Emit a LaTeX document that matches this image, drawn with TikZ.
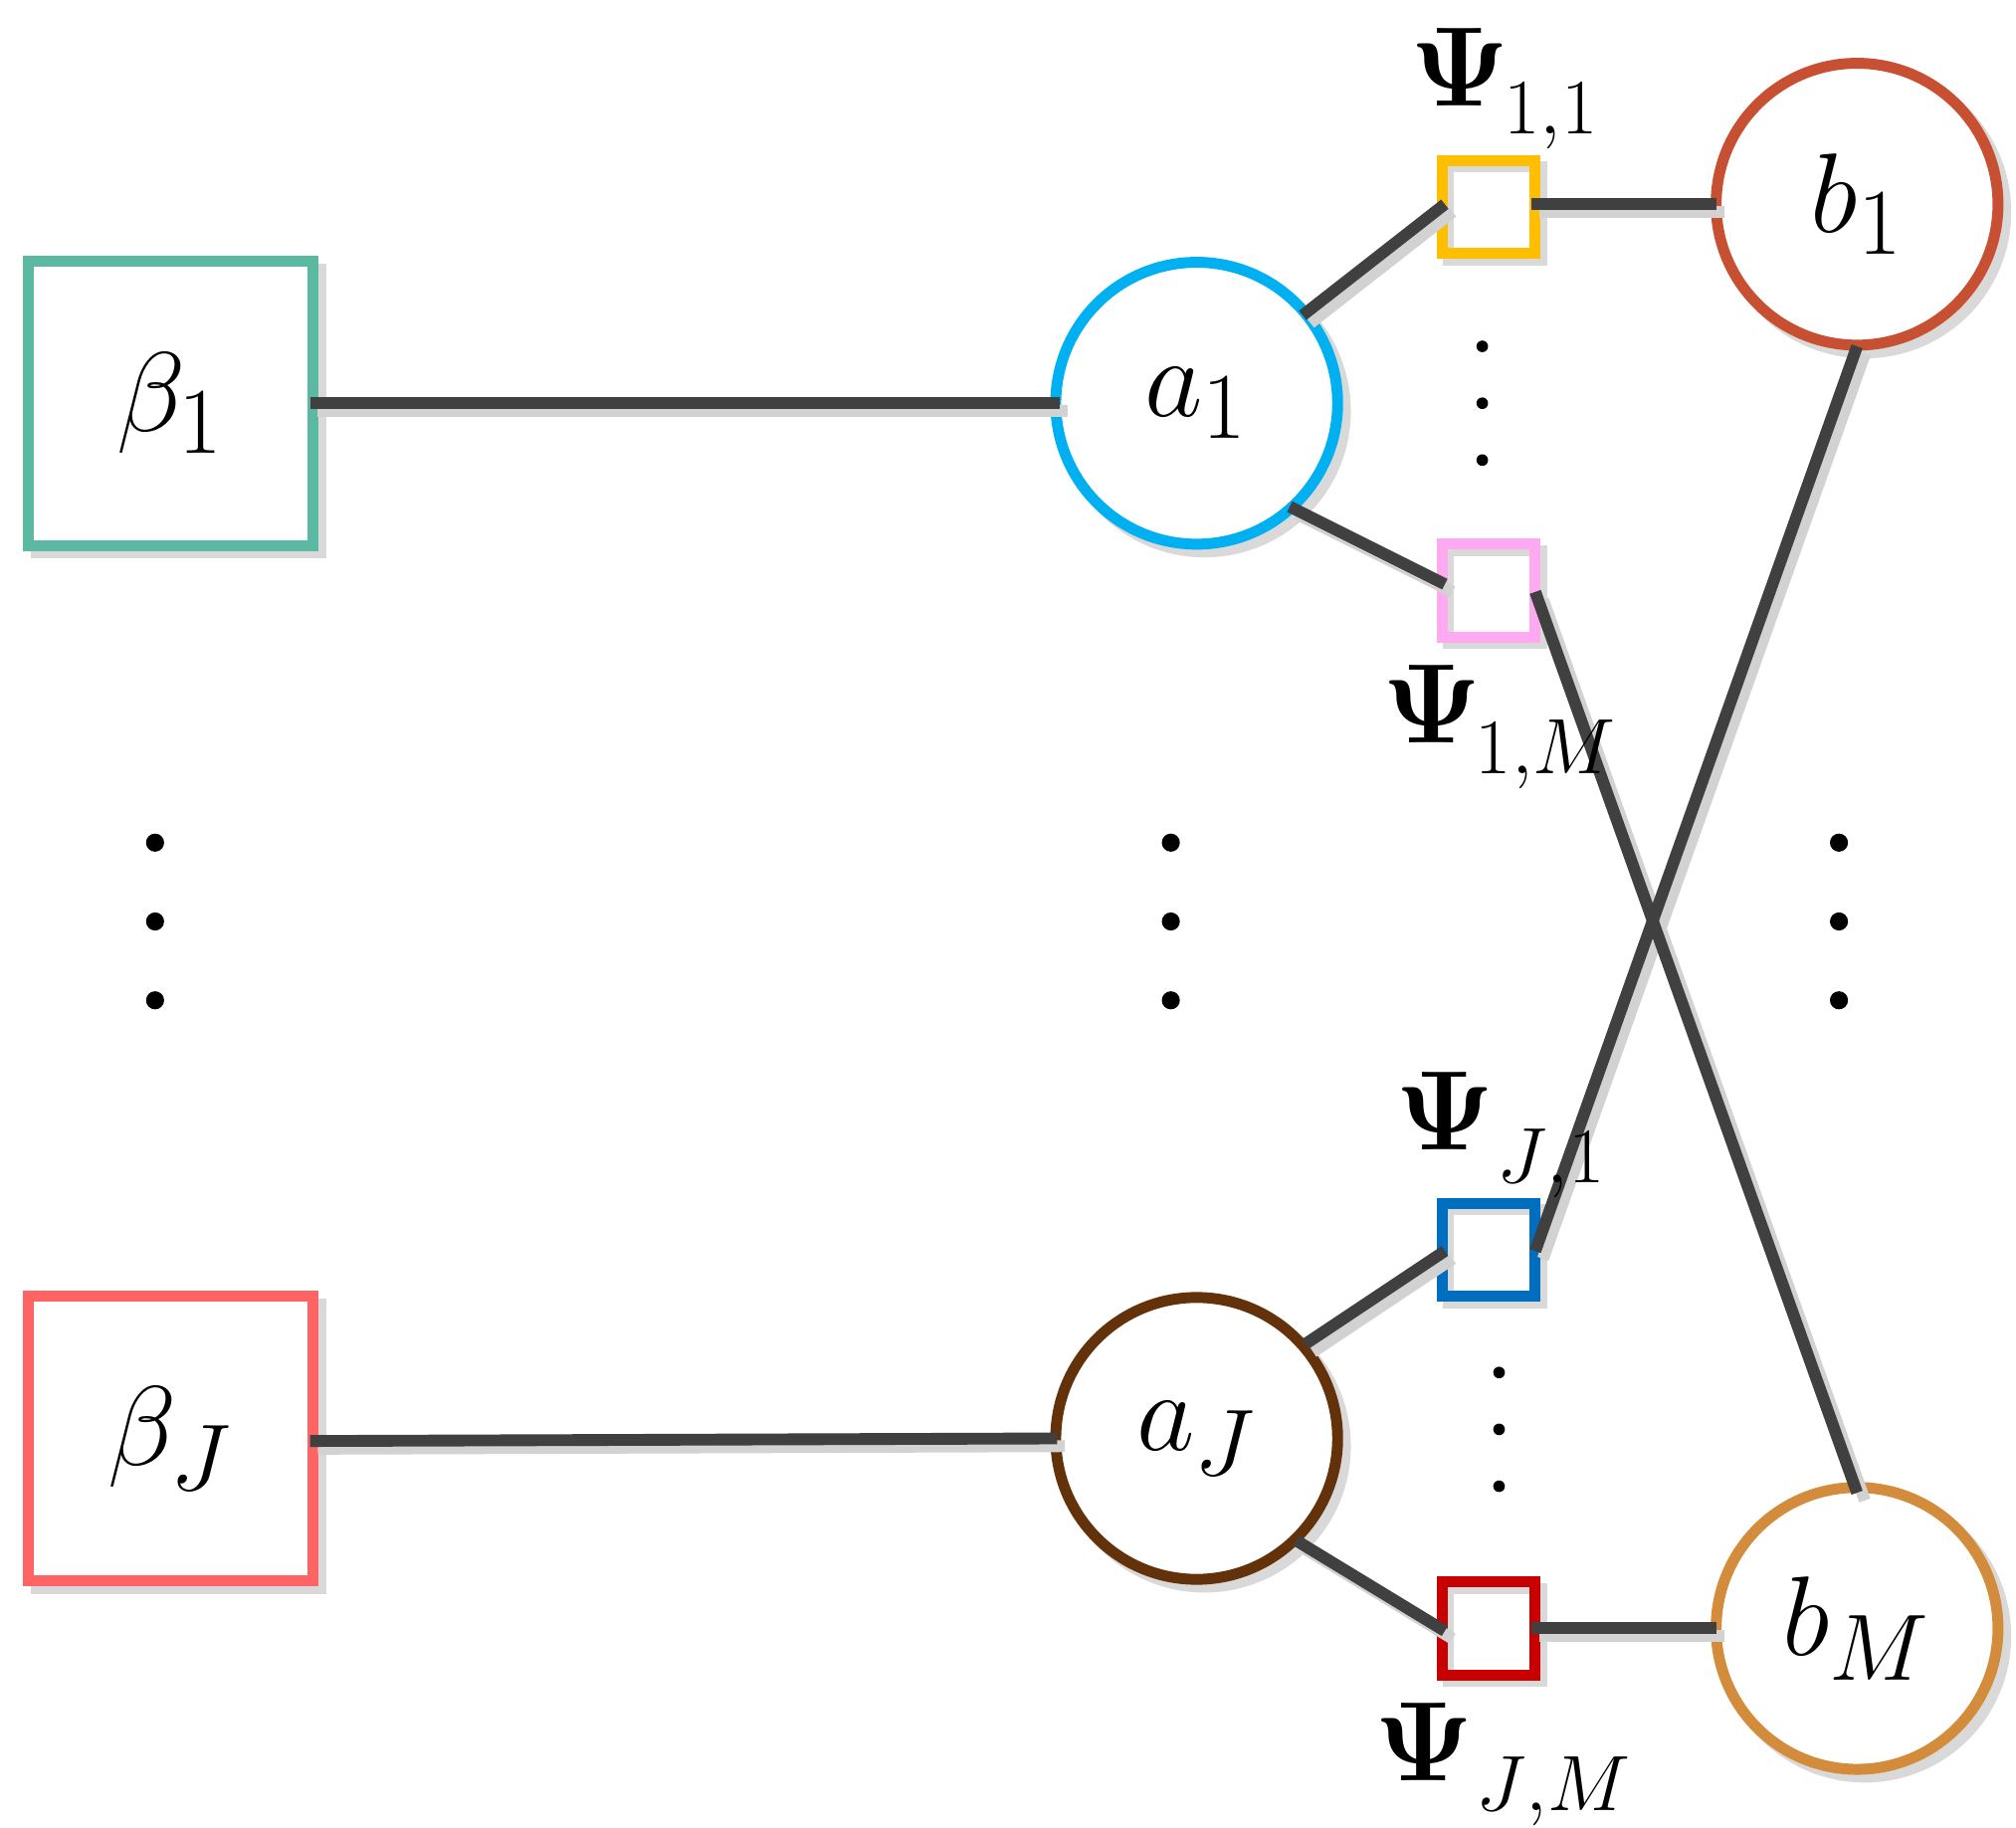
\documentclass[tikz,border=0pt]{standalone}
\usepackage{amsmath}
\begin{document}
\begin{tikzpicture}[x=0.01cm,y=-0.01cm,
 sq/.style={draw,line width=2.4pt,minimum size=2.2cm,inner sep=0pt},
 ssq/.style={draw,line width=2.4pt,minimum size=0.72cm,inner sep=0pt},
 cir/.style={draw,circle,line width=2.4pt,minimum size=2.18cm,inner sep=0pt},
 con/.style={line width=2.6pt,draw={rgb,255:red,64;green,64;blue,64}},
 shd/.style={line width=2.6pt,draw=gray!35},
 dot/.style={circle,fill=black,inner sep=0pt,minimum size=0.14cm},
 sdot/.style={circle,fill=black,inner sep=0pt,minimum size=0.09cm},
 big/.style={font=\fontsize{30}{34}\selectfont},
 psi/.style={font=\fontsize{26}{30}\selectfont},
 sub/.style={font=\fontsize{19}{22}\selectfont}]
\useasboundingbox (0,0) rectangle (1560,1414);
\definecolor{cb1}{RGB}{90,185,160}\definecolor{cbJ}{RGB}{255,100,100}
\definecolor{ca1}{RGB}{0,176,240}\definecolor{caJ}{RGB}{100,50,10}
\definecolor{cb}{RGB}{200,80,50}\definecolor{cbM}{RGB}{210,140,60}
\definecolor{c11}{RGB}{255,190,0}\definecolor{c1M}{RGB}{255,170,240}
\definecolor{cJ1}{RGB}{0,110,190}\definecolor{cJM}{RGB}{200,0,0}
% shadows of shapes
\foreach \p in {(138,318),(138,1119)} \node[sq,draw=gray!30] at \p {};
\foreach \p in {(932,318),(932,1119),(1443,164),(1443,1266)} \node[cir,draw=gray!30] at \p {};
\foreach \p in {(1157,165),(1157,462),(1157,972),(1157,1265)} \node[ssq,draw=gray!30] at \p {};
% nodes
\node[sq,draw=cb1,fill=white] (B1) at (132,312) {};
\node[sq,draw=cbJ,fill=white] (BJ) at (132,1113) {};
\node[cir,draw=ca1,fill=white] (A1) at (926,312) {};
\node[cir,draw=caJ,fill=white] (AJ) at (926,1113) {};
\node[cir,draw=cb,fill=white] (Bb1) at (1437,158) {};
\node[cir,draw=cbM,fill=white] (BbM) at (1437,1260) {};
\node[ssq,draw=c11] (P11) at (1152,160) {};
\node[ssq,draw=c1M] (P1M) at (1152,457) {};
\node[ssq,draw=cJ1] (PJ1) at (1152,967) {};
\node[ssq,draw=cJM] (PJM) at (1152,1260) {};
% connector endpoints
\coordinate (e1) at (240,312); \coordinate (e2) at (820,312);
\coordinate (e3) at (1008,244); \coordinate (e4) at (1118,158);
\coordinate (e5) at (998,392); \coordinate (e6) at (1118,452);
\coordinate (e7) at (1185,158); \coordinate (e8) at (1328,158);
\coordinate (e9) at (1188,458); \coordinate (e10) at (1437,1155);
\coordinate (e11) at (1437,268); \coordinate (e12) at (1188,968);
\coordinate (e13) at (1010,1040); \coordinate (e14) at (1118,968);
\coordinate (e15) at (1003,1192); \coordinate (e16) at (1118,1262);
\coordinate (e17) at (1185,1260); \coordinate (e18) at (1328,1260);
\coordinate (e19) at (240,1115); \coordinate (e20) at (818,1113);
\foreach \a/\b in {e1/e2,e3/e4,e5/e6,e7/e8,e9/e10,e11/e12,e13/e14,e15/e16,e17/e18,e19/e20}{
 \draw[shd] ([shift={(6,6)}]\a) -- ([shift={(6,6)}]\b);}
\foreach \a/\b in {e1/e2,e3/e4,e5/e6,e7/e8,e9/e10,e11/e12,e13/e14,e15/e16,e17/e18,e19/e20}{
 \draw[con] (\a) -- (\b);}
% labels inside
\node[big] at (B1) {$\beta_1$};
\node[big] at (BJ) {$\beta_J$};
\node[big] at (A1) {$a_1$};
\node[big] at (AJ) {$a_J$};
\node[big] at (Bb1) {$b_1$};
\node[big] at (BbM) {$b_M$};
% Psi labels
\node[psi] (L1) at (1130,52) {$\mathbf{\Psi}$};
\node[sub] (S1) at (1200,90) {$1{,}1$};
\node[psi] (L2) at (1108,545) {$\mathbf{\Psi}$};
\node[sub] (S2) at (1196,584) {$1{,}M$};
\node[psi] (L3) at (1118,860) {$\mathbf{\Psi}$};
\node[sub] (S3) at (1200,900) {$J{,}1$};
\node[psi] (L4) at (1102,1348) {$\mathbf{\Psi}$};
\node[sub] (S4) at (1202,1386) {$J{,}M$};
% dots
\foreach \x in {120,906,1423} \foreach \y in {652,713,774} \node[dot] at (\x,\y) {};
\foreach \y in {268,312,356} \node[sdot] at (1147,\y) {};
\foreach \y in {1062,1106,1150} \node[sdot] at (1160,\y) {};
\end{tikzpicture}
\end{document}
